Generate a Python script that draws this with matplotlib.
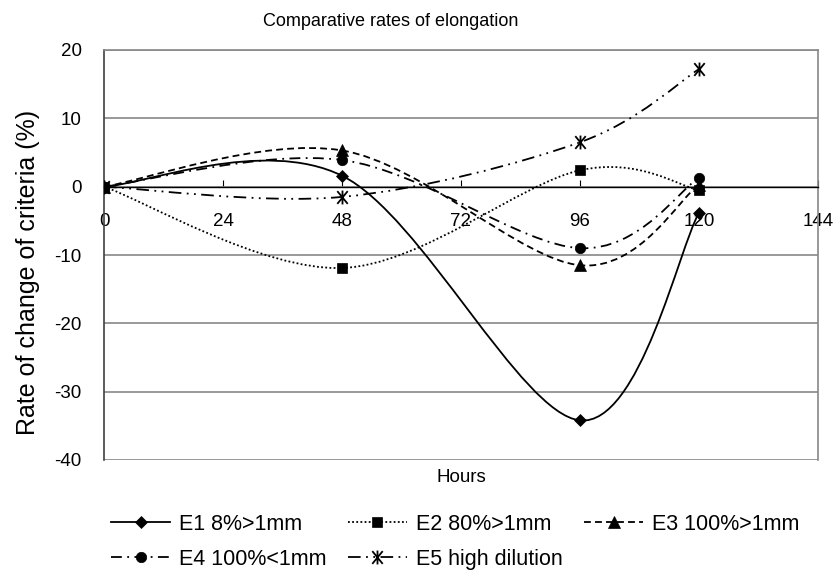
import numpy as np
import matplotlib
matplotlib.use('Agg')
import matplotlib.pyplot as plt
from matplotlib.path import Path
from matplotlib.patches import PathPatch
from matplotlib.lines import Line2D

plt.rcParams['font.family'] = ['Liberation Sans', 'DejaVu Sans']
plt.rcParams['axes.unicode_minus'] = False

# Sampling times (hours) and rate of change per series (%)
hours = [0, 48, 96, 120]
e1 = [0, 1.6, -34.2, -3.8]
e2 = [0, -11.9, 2.4, -0.5]
e3 = [0, 5.3, -11.5, 0.3]
e4 = [0, 3.9, -9.0, 1.3]
e5 = [0, -1.5, 6.5, 17.2]

labels = ['E1 8%>1mm', 'E2 80%>1mm', 'E3 100%>1mm', 'E4 100%<1mm', 'E5 high dilution']
x_ticks = [0, 24, 48, 72, 96, 120, 144]
y_ticks = [20, 10, 0, -10, -20, -30, -40]

# asterisk marker: vertical bar plus an X
star = Path([(-0.45, -0.55), (0.45, 0.55), (-0.45, 0.55), (0.45, -0.55), (0, -0.6), (0, 0.6)],
            [Path.MOVETO, Path.LINETO, Path.MOVETO, Path.LINETO, Path.MOVETO, Path.LINETO])

styles = [
    dict(dashes=None, marker='D', ms=6.5),
    dict(dashes=(1, 1.3), marker='s', ms=7),
    dict(dashes=(3.8, 2.3), marker='^', ms=8),
    dict(dashes=(6, 3, 1, 3), marker='o', ms=7.5),
    dict(dashes=(7, 3, 1, 3, 1, 3), marker=star, ms=10),
]
series = [e1, e2, e3, e4, e5]


def smooth_path(xs, ys):
    """Cubic Bezier through the points (Catmull-Rom style control points)."""
    pts = np.column_stack([xs, ys]).astype(float)
    n = len(pts)
    verts = [pts[0]]
    codes = [Path.MOVETO]
    for i in range(n - 1):
        p0 = pts[max(i - 1, 0)]
        p1 = pts[i]
        p2 = pts[i + 1]
        p3 = pts[min(i + 2, n - 1)]
        c1 = p1 + (p2 - p0) / 6.0
        c2 = p2 - (p3 - p1) / 6.0
        verts += [c1, c2, p2]
        codes += [Path.CURVE4] * 3
    return Path(verts, codes)


fig = plt.figure(figsize=(8.35, 5.72), dpi=100)
ax = fig.add_axes([104 / 835, 1 - 460 / 572, 714 / 835, 410 / 572])

for vals, st in zip(series, styles):
    patch = PathPatch(smooth_path(hours, vals), fill=False, edgecolor='black', lw=1.3,
                      capstyle='butt', zorder=3)
    if st['dashes'] is not None:
        patch.set_linestyle((0, st['dashes']))
    ax.add_patch(patch)
    mew = 1.3 if st['marker'] is star else 0.5
    ax.plot(hours, vals, linestyle='none', marker=st['marker'], ms=st['ms'],
            color='black', mew=mew, zorder=4)

ax.set_xlim(0, 144)
ax.set_ylim(-40, 20)
ax.set_xticks(x_ticks)
ax.set_yticks(y_ticks)

ax.spines['bottom'].set_position(('data', 0))
ax.spines['bottom'].set_color('black')
ax.spines['bottom'].set_linewidth(1.0)
ax.spines['left'].set_color('#404040')
ax.spines['left'].set_linewidth(1.2)
ax.spines['top'].set_color('#888888')
ax.spines['right'].set_color('#888888')
ax.spines['right'].set_linewidth(1.2)
ax.spines['top'].set_linewidth(1.2)

ax.yaxis.grid(True, color='#888888', linewidth=1.2)
ax.set_axisbelow(True)

ax.tick_params(axis='x', direction='in', length=5, width=0.8, pad=19, labelsize=13.5)
ax.tick_params(axis='y', length=0, pad=16, labelsize=13.5)

fig.text(391 / 835, 1 - 22 / 572, 'Comparative rates of elongation', ha='center', va='center',
         fontsize=13)
fig.text(28 / 835, 1 - 272 / 572, 'Rate of change of criteria (%)', rotation=90,
         ha='center', va='center', fontsize=18)
fig.text(461 / 835, 1 - 478 / 572, 'Hours', ha='center', va='center', fontsize=13.5)

handles = []
for lab, st in zip(labels, styles):
    ls = '-' if st['dashes'] is None else (0, st['dashes'])
    mew = 1.3 if st['marker'] is star else 0.5
    handles.append(Line2D([], [], color='black', lw=1.3, linestyle=ls, marker=st['marker'],
                          ms=st['ms'], mew=mew, label=lab))

# legend fills column by column: reorder so the rows read E1 E2 E3 / E4 E5
order = [0, 3, 1, 4, 2]
fig.legend(handles=[handles[i] for i in order], ncol=3, loc='upper left',
           bbox_to_anchor=(111 / 835, 1 - 514 / 572),
           frameon=False, fontsize=15.5, handlelength=2.75, handletextpad=0.4,
           columnspacing=1.0, numpoints=1, borderaxespad=0, borderpad=0, labelspacing=0.65)

fig.savefig('out.png', dpi=100)
